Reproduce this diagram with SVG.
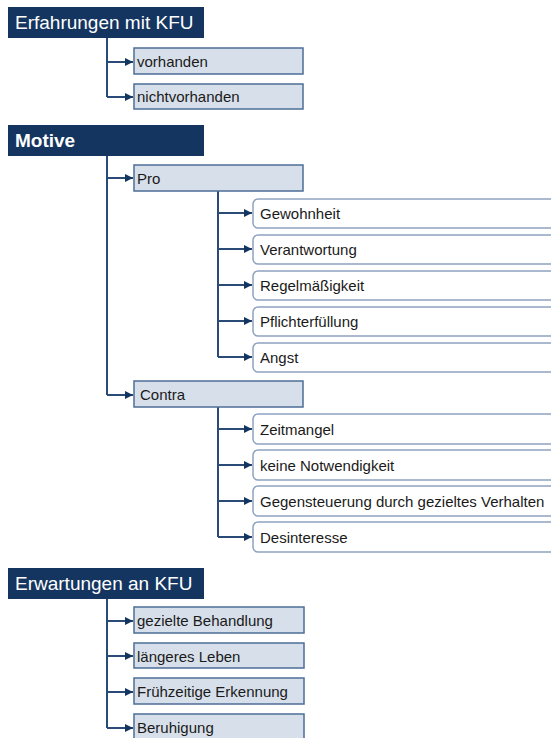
<svg xmlns="http://www.w3.org/2000/svg" width="551" height="738" viewBox="0 0 551 738">
<style>
.hdr{fill:#14355f}
.ht{fill:#fff;font-family:"Liberation Sans",Arial,sans-serif;font-size:19px}
.box{fill:#d7e0ea;stroke:#4d6d97;stroke-width:1.5}
.wbox{fill:#fff;stroke:#8ea3c0;stroke-width:1.5}
.t{fill:#1a1a1a;font-family:"Liberation Sans",Arial,sans-serif;font-size:15px}
.c{fill:none;stroke:#2a4a78;stroke-width:2}
</style>
<defs>
<marker id="ah" viewBox="0 0 10 10" refX="10" refY="5" markerWidth="4" markerHeight="4" orient="auto" markerUnits="strokeWidth">
<path d="M0,0 L10,5 L0,10 z" fill="#14355f"/>
</marker>
</defs>
<g id="connectors">
<path class="c" d="M107,38 V97"/>
<path class="c" d="M107,62 H133" marker-end="url(#ah)"/>
<path class="c" d="M107,97 H133" marker-end="url(#ah)"/>
<path class="c" d="M107,156 V395"/>
<path class="c" d="M107,178 H133" marker-end="url(#ah)"/>
<path class="c" d="M107,395 H133" marker-end="url(#ah)"/>
<path class="c" d="M218,191 V357"/>
<path class="c" d="M218,213 H252" marker-end="url(#ah)"/>
<path class="c" d="M218,249 H252" marker-end="url(#ah)"/>
<path class="c" d="M218,285 H252" marker-end="url(#ah)"/>
<path class="c" d="M218,321 H252" marker-end="url(#ah)"/>
<path class="c" d="M218,357 H252" marker-end="url(#ah)"/>
<path class="c" d="M218,407 V537"/>
<path class="c" d="M218,429 H252" marker-end="url(#ah)"/>
<path class="c" d="M218,465 H252" marker-end="url(#ah)"/>
<path class="c" d="M218,501 H252" marker-end="url(#ah)"/>
<path class="c" d="M218,537 H252" marker-end="url(#ah)"/>
<path class="c" d="M107,599 V728"/>
<path class="c" d="M107,621 H133" marker-end="url(#ah)"/>
<path class="c" d="M107,656 H133" marker-end="url(#ah)"/>
<path class="c" d="M107,692 H133" marker-end="url(#ah)"/>
<path class="c" d="M107,728 H133" marker-end="url(#ah)"/>
</g>
<g id="erfahrungen"><rect class="hdr" x="8" y="7" width="196" height="31"/><text class="ht" x="15" y="29">Erfahrungen mit KFU</text></g>
<g id="vorhanden"><rect class="box" x="134" y="48" width="169" height="26"/><text class="t" x="137" y="67">vorhanden</text></g>
<g id="nichtvorhanden"><rect class="box" x="134" y="84" width="169" height="25"/><text class="t" x="137" y="102">nichtvorhanden</text></g>
<g id="motive"><rect class="hdr" x="8" y="125" width="196" height="31"/><text class="ht" x="15" y="147" font-weight="bold" font-size="17">Motive</text></g>
<g id="pro"><rect class="box" x="134" y="165" width="169" height="26"/><text class="t" x="137" y="184">Pro</text></g>
<g id="gewohnheit"><rect class="wbox" x="253" y="199" width="320" height="29" rx="5"/><text class="t" x="260" y="219">Gewohnheit</text></g>
<g id="verantwortung"><rect class="wbox" x="253" y="235" width="320" height="29" rx="5"/><text class="t" x="260" y="255">Verantwortung</text></g>
<g id="regelmaessigkeit"><rect class="wbox" x="253" y="271" width="320" height="29" rx="5"/><text class="t" x="260" y="291">Regelmäßigkeit</text></g>
<g id="pflichterfuellung"><rect class="wbox" x="253" y="307" width="320" height="29" rx="5"/><text class="t" x="260" y="327">Pflichterfüllung</text></g>
<g id="angst"><rect class="wbox" x="253" y="343" width="320" height="29" rx="5"/><text class="t" x="260" y="363">Angst</text></g>
<g id="contra"><rect class="box" x="134" y="381" width="169" height="26"/><text class="t" x="140" y="400">Contra</text></g>
<g id="zeitmangel"><rect class="wbox" x="253" y="414" width="320" height="30" rx="5"/><text class="t" x="260" y="435">Zeitmangel</text></g>
<g id="keinenotwendigkeit"><rect class="wbox" x="253" y="450" width="320" height="30" rx="5"/><text class="t" x="260" y="471">keine Notwendigkeit</text></g>
<g id="gegensteuerung"><rect class="wbox" x="253" y="486" width="320" height="30" rx="5"/><text class="t" x="260" y="507">Gegensteuerung durch gezieltes Verhalten</text></g>
<g id="desinteresse"><rect class="wbox" x="253" y="522" width="320" height="30" rx="5"/><text class="t" x="260" y="543">Desinteresse</text></g>
<g id="erwartungen"><rect class="hdr" x="8" y="568" width="196" height="31"/><text class="ht" x="15" y="590">Erwartungen an KFU</text></g>
<g id="gezieltebehandlung"><rect class="box" x="134" y="607" width="170" height="26"/><text class="t" x="137" y="626">gezielte Behandlung</text></g>
<g id="laengeresleben"><rect class="box" x="134" y="643" width="170" height="25"/><text class="t" x="137" y="662">längeres Leben</text></g>
<g id="fruehzeitigeerkennung"><rect class="box" x="134" y="678" width="170" height="26"/><text class="t" x="137" y="697">Frühzeitige Erkennung</text></g>
<g id="beruhigung"><rect class="box" x="134" y="714" width="170" height="30"/><text class="t" x="137" y="733">Beruhigung</text></g>
</svg>
